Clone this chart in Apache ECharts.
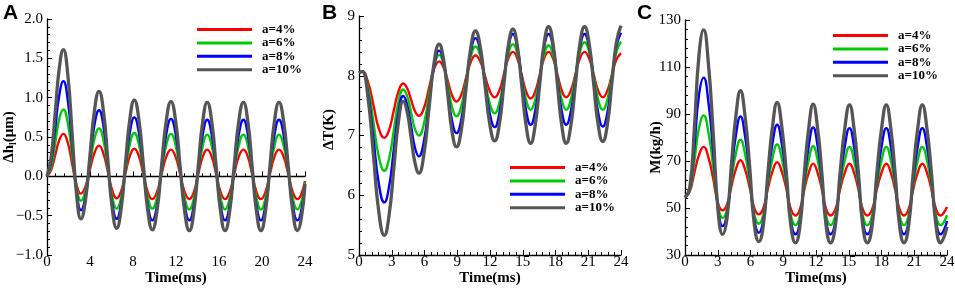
<!DOCTYPE html>
<html>
<head>
<meta charset="utf-8">
<script src="https://cdn.jsdelivr.net/npm/echarts@6/dist/echarts.min.js"></script>
<style>
  html, body { margin: 0; padding: 0; background: #fff; }
  #chart { width: 955px; height: 288px; }
</style>
</head>
<body>
<div id="chart"></div>
<script>
// legend names, shared by the three panels
const names = ['a=4%', 'a=6%', 'a=8%', 'a=10%']

// panel A: delta h_l (um) vs time (ms)
const tA = [0, 0.38, 0.76, 1.14, 1.52, 1.93, 2.34, 2.75, 3.16, 3.58, 4.0, 4.42, 4.84, 5.25, 5.66, 6.07, 6.48, 6.89, 7.3, 7.71, 8.12, 8.54, 8.96, 9.38, 9.8, 10.23, 10.66, 11.1, 11.53, 11.96, 12.38, 12.81, 13.24, 13.66, 14.07, 14.49, 14.9, 15.32, 15.73, 16.15, 16.56, 16.99, 17.41, 17.84, 18.27, 18.68, 19.08, 19.49, 19.9, 20.32, 20.74, 21.16, 21.58, 22.01, 22.44, 22.87, 23.3, 23.65, 24]
const a4A = [0, 0.08, 0.27, 0.46, 0.54, 0.43, 0.16, -0.11, -0.22, -0.13, 0.09, 0.30, 0.39, 0.29, 0.06, -0.18, -0.28, -0.19, 0.04, 0.26, 0.35, 0.26, 0.03, -0.20, -0.29, -0.20, 0.03, 0.25, 0.34, 0.25, 0.03, -0.20, -0.29, -0.20, 0.03, 0.25, 0.34, 0.25, 0.03, -0.20, -0.29, -0.20, 0.03, 0.25, 0.34, 0.25, 0.03, -0.20, -0.29, -0.20, 0.03, 0.25, 0.34, 0.25, 0.03, -0.20, -0.29, -0.23, -0.06]
const a6A = [0, 0.12, 0.42, 0.73, 0.85, 0.68, 0.27, -0.14, -0.31, -0.18, 0.15, 0.48, 0.61, 0.46, 0.10, -0.26, -0.41, -0.27, 0.07, 0.41, 0.55, 0.41, 0.07, -0.27, -0.41, -0.27, 0.07, 0.40, 0.54, 0.40, 0.06, -0.28, -0.42, -0.28, 0.06, 0.39, 0.53, 0.39, 0.06, -0.28, -0.42, -0.28, 0.06, 0.39, 0.53, 0.39, 0.06, -0.28, -0.42, -0.28, 0.06, 0.39, 0.53, 0.39, 0.06, -0.28, -0.42, -0.33, -0.08]
const a8A = [0, 0.18, 0.60, 1.03, 1.21, 0.97, 0.39, -0.19, -0.43, -0.25, 0.21, 0.66, 0.84, 0.64, 0.15, -0.34, -0.54, -0.35, 0.11, 0.56, 0.75, 0.56, 0.10, -0.37, -0.56, -0.37, 0.09, 0.54, 0.73, 0.54, 0.09, -0.37, -0.56, -0.37, 0.08, 0.53, 0.72, 0.53, 0.08, -0.37, -0.56, -0.37, 0.08, 0.53, 0.72, 0.53, 0.08, -0.37, -0.56, -0.37, 0.08, 0.53, 0.72, 0.53, 0.08, -0.37, -0.56, -0.44, -0.10]
const a10A = [0, 0.24, 0.80, 1.37, 1.61, 1.30, 0.54, -0.23, -0.54, -0.30, 0.27, 0.84, 1.08, 0.83, 0.21, -0.41, -0.66, -0.42, 0.16, 0.73, 0.97, 0.73, 0.15, -0.44, -0.68, -0.44, 0.14, 0.71, 0.95, 0.71, 0.13, -0.45, -0.69, -0.45, 0.13, 0.70, 0.94, 0.70, 0.13, -0.45, -0.69, -0.45, 0.13, 0.70, 0.94, 0.70, 0.13, -0.45, -0.69, -0.45, 0.13, 0.70, 0.94, 0.70, 0.13, -0.45, -0.69, -0.54, -0.10]

// panel B: delta T (K) vs time (ms)
const tB = [0, 0.3, 0.8, 1.31, 1.81, 2.32, 2.75, 3.19, 3.62, 4.05, 4.41, 4.77, 5.12, 5.48, 5.95, 6.41, 6.88, 7.34, 7.74, 8.14, 8.53, 8.93, 9.37, 9.8, 10.24, 10.67, 11.11, 11.55, 11.99, 12.43, 12.85, 13.27, 13.68, 14.1, 14.5, 14.91, 15.32, 15.72, 16.13, 16.55, 16.96, 17.37, 17.77, 18.18, 18.58, 18.98, 19.4, 19.82, 20.24, 20.66, 21.08, 21.5, 21.91, 22.33, 22.75, 23.16, 23.58, 24]
const a4B = [8.05, 8.07, 7.91, 7.52, 7.12, 6.96, 7.09, 7.42, 7.74, 7.87, 7.79, 7.60, 7.41, 7.33, 7.46, 7.79, 8.11, 8.24, 8.14, 7.91, 7.67, 7.57, 7.68, 7.96, 8.23, 8.34, 8.24, 7.99, 7.74, 7.64, 7.75, 8.02, 8.29, 8.40, 8.29, 8.01, 7.73, 7.62, 7.73, 8.01, 8.29, 8.40, 8.29, 8.02, 7.75, 7.64, 7.75, 8.02, 8.29, 8.40, 8.29, 8.02, 7.75, 7.64, 7.75, 8.01, 8.27, 8.38]
const a6B = [8.05, 8.07, 7.83, 7.24, 6.65, 6.41, 6.61, 7.09, 7.57, 7.77, 7.66, 7.39, 7.11, 7.0, 7.20, 7.68, 8.15, 8.35, 8.20, 7.84, 7.47, 7.32, 7.49, 7.91, 8.32, 8.49, 8.33, 7.93, 7.53, 7.37, 7.54, 7.95, 8.36, 8.53, 8.37, 7.98, 7.59, 7.43, 7.59, 7.97, 8.35, 8.51, 8.35, 7.97, 7.59, 7.43, 7.60, 8.0, 8.40, 8.56, 8.40, 8.0, 7.60, 7.43, 7.60, 8.0, 8.40, 8.57]
const a8B = [8.05, 8.07, 7.75, 6.98, 6.20, 5.88, 6.14, 6.77, 7.40, 7.66, 7.51, 7.16, 6.80, 6.65, 6.91, 7.54, 8.16, 8.42, 8.22, 7.73, 7.24, 7.04, 7.27, 7.84, 8.40, 8.63, 8.41, 7.89, 7.36, 7.14, 7.37, 7.92, 8.47, 8.70, 8.48, 7.94, 7.40, 7.18, 7.40, 7.94, 8.48, 8.70, 8.48, 7.94, 7.40, 7.18, 7.40, 7.94, 8.48, 8.70, 8.47, 7.93, 7.38, 7.15, 7.38, 7.94, 8.49, 8.72]
const a10B = [8.05, 8.07, 7.67, 6.70, 5.73, 5.33, 5.66, 6.45, 7.24, 7.57, 7.40, 6.97, 6.55, 6.37, 6.69, 7.45, 8.22, 8.53, 8.28, 7.67, 7.06, 6.81, 7.09, 7.78, 8.47, 8.75, 8.48, 7.83, 7.18, 6.91, 7.18, 7.85, 8.51, 8.78, 8.50, 7.83, 7.15, 6.87, 7.16, 7.85, 8.54, 8.82, 8.54, 7.85, 7.16, 6.87, 7.16, 7.85, 8.54, 8.82, 8.54, 7.86, 7.18, 6.90, 7.18, 7.87, 8.56, 8.84]

// panel C: M (kg/h) vs time (ms)
const tC = [0, 0.43, 0.86, 1.28, 1.71, 2.15, 2.58, 3.02, 3.45, 3.86, 4.27, 4.67, 5.08, 5.5, 5.92, 6.34, 6.76, 7.18, 7.6, 8.02, 8.44, 8.86, 9.28, 9.7, 10.12, 10.53, 10.93, 11.34, 11.74, 12.14, 12.54, 12.93, 13.33, 13.77, 14.2, 14.64, 15.07, 15.48, 15.89, 16.29, 16.7, 17.14, 17.57, 18.01, 18.44, 18.85, 19.25, 19.66, 20.06, 20.48, 20.9, 21.32, 21.74, 22.16, 22.58, 23.0, 23.42, 23.71, 24]
const a4C = [54.5, 57, 65, 72.5, 76.0, 71.4, 62.5, 52.2, 49.0, 51.6, 59.7, 66.7, 70.3, 66.4, 58.8, 50.1, 47.3, 50.0, 58.4, 65.7, 69.5, 65.6, 58.2, 49.5, 46.8, 49.5, 57.9, 65.1, 68.9, 65.1, 57.9, 49.5, 46.8, 49.4, 57.8, 65.1, 68.8, 65.1, 57.8, 49.4, 46.8, 49.4, 57.8, 65.1, 68.8, 65.1, 57.8, 49.4, 46.8, 49.4, 57.8, 65.1, 68.8, 65.1, 57.8, 49.4, 46.8, 48, 50.5]
const a6C = [54.5, 57.5, 70, 84, 89.4, 82.0, 67.6, 51.0, 45.8, 49.8, 62.5, 73.4, 79.1, 73.0, 61.2, 47.6, 43.3, 47.3, 60.2, 71.3, 77.0, 71.2, 59.9, 46.8, 42.7, 46.7, 59.5, 70.6, 76.3, 70.6, 59.5, 46.7, 42.7, 46.7, 59.4, 70.3, 76.0, 70.3, 59.4, 46.7, 42.7, 46.7, 59.4, 70.3, 76.0, 70.3, 59.4, 46.7, 42.7, 46.7, 59.4, 70.3, 76.0, 70.3, 59.4, 46.7, 42.7, 44, 47]
const a8C = [54.5, 58, 76, 98, 105.5, 94.8, 73.9, 49.9, 42.3, 47.9, 65.7, 81.1, 89.0, 80.6, 64.3, 45.4, 39.5, 45.0, 62.5, 77.6, 85.4, 77.5, 62.1, 44.4, 38.8, 44.3, 61.6, 76.6, 84.3, 76.6, 61.6, 44.3, 38.8, 44.2, 61.4, 76.3, 84.0, 76.3, 61.4, 44.2, 38.8, 44.2, 61.4, 76.3, 84.0, 76.3, 61.4, 44.2, 38.8, 44.2, 61.4, 76.3, 84.0, 76.3, 61.4, 44.2, 38.8, 40.5, 44.5]
const a10C = [54.5, 58.5, 84, 115, 125.8, 111.0, 82.3, 49.2, 38.8, 46.1, 69.4, 89.5, 99.9, 89.0, 67.8, 43.4, 35.7, 42.8, 65.3, 84.8, 94.9, 84.8, 65.1, 42.4, 35.2, 42.3, 64.7, 84.2, 94.2, 84.2, 64.7, 42.3, 35.2, 42.2, 64.6, 83.9, 93.9, 83.9, 64.6, 42.2, 35.2, 42.2, 64.6, 83.9, 93.9, 83.9, 64.6, 42.2, 35.2, 42.2, 64.6, 83.9, 93.9, 83.9, 64.6, 42.2, 35.2, 37.5, 42]

const colors = ['#ff0000', '#00cc00', '#0000ff', '#555555']
const widths = [2.4, 2.4, 2.4, 3.3]
const serif = 'Liberation Serif'

const panels = [
  { t: tA, ys: [a4A, a6A, a8A, a10A] },
  { t: tB, ys: [a4B, a6B, a8B, a10B] },
  { t: tC, ys: [a4C, a6C, a8C, a10C] },
]

// tecplot-like minus sign on negative tick labels
const fmtNum = (digits) => (v) => v.toFixed(digits).replace('-', '\u2212')

const xAxisBase = (interval) => ({
  type: 'value',
  min: 0,
  max: 24,
  interval,
  name: 'Time(ms)',
  nameLocation: 'middle',
  nameGap: 16,
  nameMoveOverlap: false,
  nameTextStyle: { fontFamily: serif, fontWeight: 'bold', fontSize: 15, color: '#000' },
  axisLine: { lineStyle: { color: '#000', width: 1.3 } },
  axisTick: { inside: true, length: 5, lineStyle: { color: '#000' } },
  minorTick: { show: true, splitNumber: 5, length: 3, lineStyle: { color: '#000' } },
  axisLabel: { fontFamily: serif, fontSize: 15, color: '#000', margin: 0 },
  splitLine: { show: false },
})

// shift moves the rotated name along the axis (positive = up)
const yAxisBase = (min, max, interval, name, gap, fmt, shift) => ({
  type: 'value',
  min,
  max,
  interval,
  name,
  nameLocation: 'middle',
  nameGap: gap,
  nameMoveOverlap: false,
  nameTextStyle: {
    fontFamily: serif, fontWeight: 'bold', fontSize: 15, color: '#000', lineHeight: 18,
    padding: shift > 0 ? [0, 0, 0, shift * 2] : [0, -shift * 2, 0, 0],
    rich: { sub: { fontFamily: serif, fontWeight: 'bold', fontSize: 10, lineHeight: 10, verticalAlign: 'bottom' } },
  },
  axisLine: { show: true, lineStyle: { color: '#000', width: 1.3 } },
  axisTick: { show: true, inside: true, length: 5, lineStyle: { color: '#000' } },
  minorTick: { show: true, splitNumber: 5, length: 3, lineStyle: { color: '#000' } },
  axisLabel: { fontFamily: serif, fontSize: 15, color: '#000', margin: 4, formatter: fmt },
  splitLine: { show: false },
})

const legendBase = (left, top) => ({
  data: names,
  orient: 'vertical',
  left,
  top,
  padding: 0,
  icon: 'rect',
  itemWidth: 55,
  itemHeight: 3,
  itemGap: 0.4,
  textStyle: { fontFamily: serif, fontWeight: 'bold', fontSize: 13, lineHeight: 12, color: '#000', padding: [0, 0, 0, 5] },
})

const series = []
panels.forEach((p, pi) => {
  p.ys.forEach((vals, si) => {
    series.push({
      name: names[si],
      type: 'line',
      xAxisIndex: pi,
      yAxisIndex: pi,
      data: p.t.map((t, i) => [t, vals[i]]),
      smooth: 0.5,
      symbol: 'none',
      lineStyle: { color: colors[si], width: widths[si] },
      itemStyle: { color: colors[si] },
      z: 2 + si,
    })
  })
})

const letter = (left, text) => ({
  type: 'text',
  left,
  top: 3,
  style: { text, font: 'bold 21px "Liberation Sans"', fill: '#000' },
})

const option = {
  animation: false,
  backgroundColor: '#fff',
  // fixed plot boxes, no auto shrinking for labels
  grid: [
    { left: 47, top: 19, width: 258, height: 236, outerBoundsMode: 'none', containLabel: false },
    { left: 359, top: 16, width: 262, height: 239, outerBoundsMode: 'none', containLabel: false },
    { left: 685, top: 20, width: 262, height: 235, outerBoundsMode: 'none', containLabel: false },
  ],
  xAxis: [
    { ...xAxisBase(4), gridIndex: 0 },
    { ...xAxisBase(3), gridIndex: 1 },
    { ...xAxisBase(3), gridIndex: 2 },
  ],
  yAxis: [
    { ...yAxisBase(-1, 2, 0.5, 'Δh{sub|l}(μm)', 29, fmtNum(1), 0), gridIndex: 0 },
    { ...yAxisBase(5, 9, 1, 'ΔT(K)', 21, fmtNum(0), 6), gridIndex: 1 },
    { ...yAxisBase(30, 130, 20, 'M(kg/h)', 20, fmtNum(0), -10), gridIndex: 2 },
  ],
  legend: [
    legendBase(197, 23),
    legendBase(510, 161),
    legendBase(833, 29),
  ],
  graphic: [letter(3, 'A'), letter(322, 'B'), letter(637, 'C')],
  series,
}

const chart = echarts.init(document.getElementById('chart'))
chart.setOption(option)
</script>
</body>
</html>
